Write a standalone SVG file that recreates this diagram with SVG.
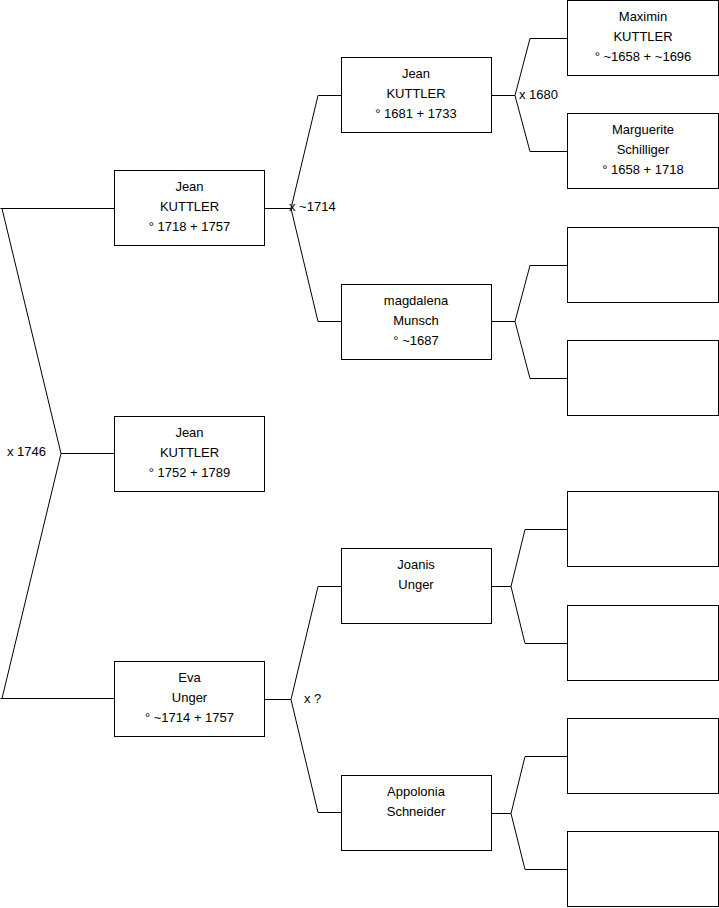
<svg xmlns="http://www.w3.org/2000/svg" width="719" height="908" viewBox="0 0 719 908">
<style>
rect{fill:#fff;stroke:#000;stroke-width:1}
.c path{fill:none;stroke:#000;stroke-width:1}
text{font-family:"Liberation Sans",Arial,sans-serif;font-size:13px;fill:#000}
.n text{text-anchor:middle}
</style>
<rect x="0" y="0" width="719" height="908" style="stroke:none"/>
<g class="c" id="connectors">
<path d="M114,208.5 H0.5 M2,208.5 L61,453.5 L2,698.5 M0.5,698.5 H114 M61,453.5 H114"/>
<path d="M265,208.5 H291 M318,95.5 L291,208.5 L318,321.5 M318,95.5 H341 M318,321.5 H341"/>
<path d="M265,699.5 H291 M318,586.5 L291,699.5 L318,812.5 M318,586.5 H341 M318,812.5 H341"/>
<path d="M491,95.5 H515 M530,38.5 L515,95.5 L530,151.5 M530,38.5 H567 M530,151.5 H567"/>
<path d="M491,321.5 H515 M530,265.5 L515,321.5 L530,378.5 M530,265.5 H567 M530,378.5 H567"/>
<path d="M491,586.5 H511 M525,529.5 L511,586.5 L525,643.5 M525,529.5 H567 M525,643.5 H567"/>
<path d="M491,813.5 H511 M525,756.5 L511,813.5 L525,869.5 M525,756.5 H567 M525,869.5 H567"/>
<text x="7" y="456">x 1746</text>
<text x="289" y="211">x ~1714</text>
<text x="519" y="99">x 1680</text>
<text x="304" y="703">x ?</text>
</g>
<g class="n" id="n1"><rect x="114.5" y="170.5" width="150" height="75"/><text x="189.5" y="191">Jean</text><text x="189.5" y="211">KUTTLER</text><text x="189.5" y="231">° 1718 + 1757</text></g>
<g class="n" id="n2"><rect x="114.5" y="416.5" width="150" height="75"/><text x="189.5" y="437">Jean</text><text x="189.5" y="457">KUTTLER</text><text x="189.5" y="477">° 1752 + 1789</text></g>
<g class="n" id="n3"><rect x="114.5" y="661.5" width="150" height="75"/><text x="189.5" y="682">Eva</text><text x="189.5" y="702">Unger</text><text x="189.5" y="722">° ~1714 + 1757</text></g>
<g class="n" id="n4"><rect x="341.5" y="57.5" width="150" height="75"/><text x="416" y="78">Jean</text><text x="416" y="98">KUTTLER</text><text x="416" y="118">° 1681 + 1733</text></g>
<g class="n" id="n5"><rect x="341.5" y="284.5" width="150" height="75"/><text x="416" y="305">magdalena</text><text x="416" y="325">Munsch</text><text x="416" y="345">° ~1687</text></g>
<g class="n" id="n6"><rect x="341.5" y="548.5" width="150" height="75"/><text x="416" y="569">Joanis</text><text x="416" y="589">Unger</text></g>
<g class="n" id="n7"><rect x="341.5" y="775.5" width="150" height="75"/><text x="416" y="796">Appolonia</text><text x="416" y="816">Schneider</text></g>
<g class="n" id="n8"><rect x="567.5" y="0.5" width="151" height="75"/><text x="643" y="21">Maximin</text><text x="643" y="41">KUTTLER</text><text x="643" y="61">° ~1658 + ~1696</text></g>
<g class="n" id="n9"><rect x="567.5" y="113.5" width="151" height="75"/><text x="643" y="134">Marguerite</text><text x="643" y="154">Schilliger</text><text x="643" y="174">° 1658 + 1718</text></g>
<g class="n" id="n10"><rect x="567.5" y="227.5" width="151" height="75"/></g>
<g class="n" id="n11"><rect x="567.5" y="340.5" width="151" height="75"/></g>
<g class="n" id="n12"><rect x="567.5" y="491.5" width="151" height="75"/></g>
<g class="n" id="n13"><rect x="567.5" y="605.5" width="151" height="75"/></g>
<g class="n" id="n14"><rect x="567.5" y="718.5" width="151" height="75"/></g>
<g class="n" id="n15"><rect x="567.5" y="831.5" width="151" height="75"/></g>
</svg>
